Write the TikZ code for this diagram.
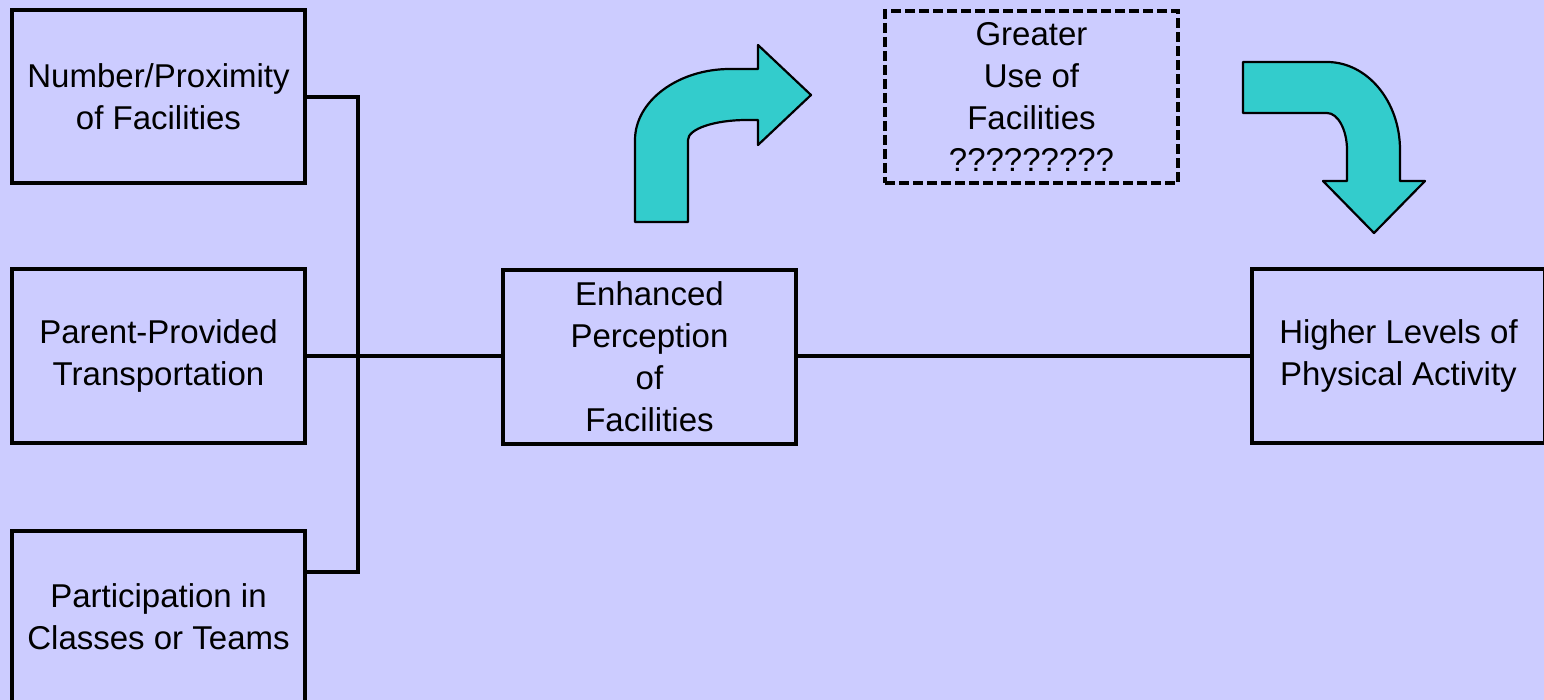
\documentclass[tikz,border=0pt]{standalone}
\usepackage{fontspec}
\setmainfont{Liberation Sans}
\definecolor{fondo}{HTML}{CCCCFF}
\definecolor{turquesa}{HTML}{33CCCC}

\begin{document}
\begin{tikzpicture}[x=1pt,y=-1pt,
        caja/.style={draw,line width=4pt,minimum width=293pt,minimum height=173pt,
            inner sep=0pt,align=center,font=\fontsize{33}{42}\selectfont},
        flecha/.style={draw,fill=turquesa,line width=2.2pt,line join=round}] %Modelo de instalaciones
            \useasboundingbox (0,0) rectangle (1544,700);
            \fill[fondo] (0,0) rectangle (1544,700);
            \clip (0,0) rectangle (1544,700);

            \node[caja] (num) at (158.5,96.5) {Number/Proximity\\of Facilities};
            \node[caja] (padres) at (158.5,356) {Parent-Provided\\Transportation};
            \node[caja] (clases) at (158.5,617) {Participation in\\Classes or Teams};

            \node[caja] (perc) at (649.5,357) {Enhanced\\Perception\\of\\Facilities};
            \node[caja] (uso) at (1031.5,97) [line width=3.2pt,dash pattern=on 10pt off 4pt,
                minimum height=172pt] {Greater\\Use of\\Facilities\\?????????};
            \node[caja] (nivel) at (1398.5,356) {Higher Levels of\\Physical Activity};

            \coordinate (J1) at (358,97);
            \coordinate (J3) at (358,572);

            \draw[line width=4pt] (num.east |- J1) -- (J1) -- (J3) -- (clases.east |- J3);
            \draw[line width=4pt] (padres.east) -- (perc.west |- padres.east);
            \draw[line width=4pt] (perc.east |- nivel.west) -- (nivel.west);

            % flecha hacia arriba
            \filldraw[flecha] (635,222) -- (635,140) .. controls (635,101) and (678,69) .. (730,69)
                -- (758,69) -- (758,45) -- (811,95) -- (758,145) -- (758,120) -- (747,120)
                .. controls (714,120) and (688,129) .. (688,140) -- (688,222) -- cycle;

            % flecha hacia abajo
            \filldraw[flecha] (1243,62) -- (1327,62) .. controls (1367,62) and (1400,101) .. (1400,150)
                -- (1400,181) -- (1425,181) -- (1374,233) -- (1323,181) -- (1347,181) -- (1347,150)
                .. controls (1347,130) and (1338,113) .. (1327,113) -- (1243,113) -- cycle;
        \end{tikzpicture}
\end{document}
